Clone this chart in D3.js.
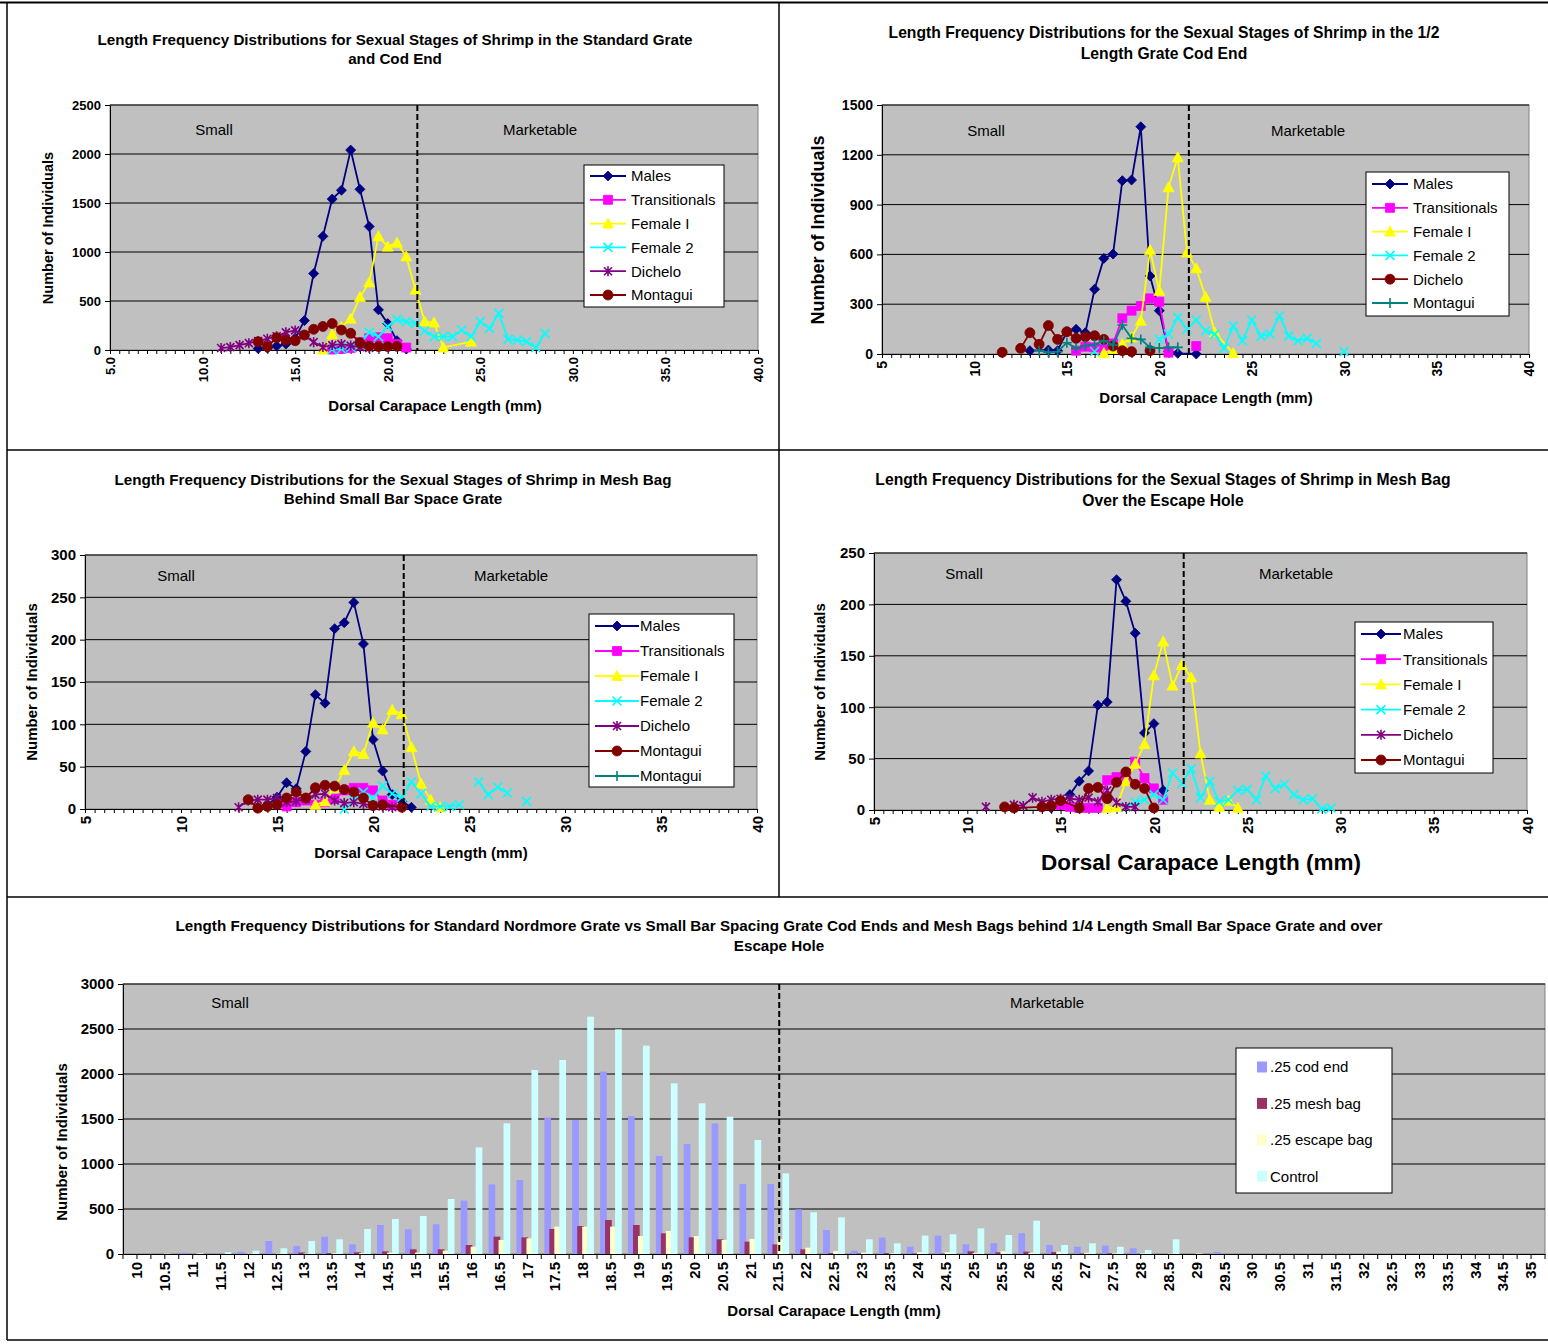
<!DOCTYPE html>
<html>
<head>
<meta charset="utf-8">
<script src="https://cdn.jsdelivr.net/npm/d3@7"></script>
<style>
  body { margin: 0; background: #fff; }
  svg { display: block; }
  text { font-family: Arial, "Liberation Sans", sans-serif; fill: #000; }
</style>
</head>
<body>
<svg id="chart" width="1548" height="1344"></svg>
<script>
// ---------- Length frequency data: [carapace length (mm), number of individuals] ----------
// Standard grate cod end
const stdMales = [[13,15],[13.5,20],[14,40],[14.5,60],[15,120],[15.5,300],[16,780],[16.5,1160],[17,1540],[17.5,1630],[18,2040],[18.5,1640],[19,1260],[19.5,410],[20,270],[20.5,95],[21,10]];
const stdTransitionals = [[17,5],[17.5,10],[18,20],[18.5,80],[19,120],[19.5,130],[20,120],[20.5,60],[21,25]];
const stdFemaleI = [[16.5,5],[17,160],[17.5,235],[18,320],[18.5,540],[19,690],[19.5,1160],[20,1055],[20.5,1095],[21,955],[21.5,615],[22,290],[22.5,280],[23,25],[24.5,85]];
const stdFemaleII = [[17,5],[17.5,10],[18,30],[18.5,60],[19,180],[19.5,136],[20,238],[20.5,313],[21,289],[21.5,272],[22,194],[22.5,136],[23,136],[23.5,136],[24,204],[24.5,136],[25,289],[25.5,221],[26,374],[26.5,109],[27,102],[27.5,85],[28,27],[28.5,170]];
const stdDichelo = [[11,20],[11.5,30],[12,50],[12.5,70],[13,90],[13.5,115],[14,140],[14.5,180],[15,200],[15.5,150],[16,80],[16.5,30],[17,50],[17.5,60],[18,45],[18.5,30],[19,20]];
const stdMontagui = [[13,85],[13.5,34],[14,126],[14.5,102],[15,95],[15.5,153],[16,211],[16.5,240],[17,270],[17.5,204],[18,170],[18.5,74],[19,41],[19.5,35],[20,35],[20.5,38]];

// 1/2 length grate cod end
const halfMales = [[13,20],[14,24],[14.5,20],[15,134],[15.5,149],[16,128],[16.5,390],[17,576],[17.5,602],[18,1044],[18.5,1048],[19,1369],[19.5,470],[20,261],[20.5,14],[21,4],[22,0]];
const halfTransitionals = [[15.5,20],[16,44],[16.5,40],[17,30],[17.5,64],[18,215],[18.5,261],[19,289],[19.5,335],[20,315],[20.5,8],[21,null],[22,48]];
const halfFemaleI = [[17,5],[17.5,30],[18,60],[18.5,100],[19,200],[19.5,626],[20,380],[20.5,1004],[21,1185],[21.5,612],[22,516],[22.5,345],[23,130],[24,5]];
const halfFemaleII = [[16.5,15],[17,null],[20,88],[20.5,120],[21,221],[21.5,149],[22,205],[22.5,140],[23,120],[23.5,34],[24,169],[24.5,80],[25,205],[25.5,108],[26,120],[26.5,229],[27,108],[27.5,80],[28,94],[28.5,64],[29,null],[30,14]];
const halfDichelo = [[11.5,10],[12,null],[12.5,34],[13,128],[13.5,58],[14,171],[14.5,88],[15,134],[15.5,94],[16,104],[16.5,110],[17,88],[17.5,48],[18,20],[18.5,14],[19,null],[19.5,20]];
const halfMontagui = [[13.5,20],[14,10],[14.5,14],[15,68],[15.5,34],[16,50],[16.5,57],[17,80],[17.5,54],[18,175],[18.5,94],[19,88],[19.5,40],[20,36],[20.5,40],[21,40]];

// Mesh bag behind small bar space grate
const meshMales = [[14.5,5],[15,14],[15.5,31],[16,24],[16.5,68],[17,135],[17.5,125],[18,213],[18.5,220],[19,244],[19.5,195],[20,82],[20.5,45],[21,17],[21.5,9],[22,2]];
const meshTransitionals = [[15.5,3],[16,8],[16.5,10],[17,5],[17.5,8],[18,12],[18.5,22],[19,25],[19.5,25],[20,22],[20.5,10],[21,5]];
const meshFemaleI = [[17,5],[17.5,9],[18,25],[18.5,46],[19,68],[19.5,65],[20,102],[20.5,94],[21,117],[21.5,112],[22,73],[22.5,30],[23,11],[23.5,2]];
const meshFemaleII = [[18.5,0],[19,10],[19.5,20],[20,13],[20.5,27],[21,18],[21.5,14],[22,32],[22.5,18],[23,3],[23.5,3],[24,3],[24.5,5],[25,null],[25.5,32],[26,17],[26.5,26],[27,19],[27.5,null],[28,9]];
const meshDichelo = [[13,2],[13.5,10],[14,11],[14.5,11],[15,13],[15.5,8],[16,9],[16.5,12],[17,17],[17.5,18],[18,10],[18.5,7],[19,8],[19.5,6],[20,4],[20.5,3],[21,2]];
const meshMontagui = [[13.5,11],[14,1],[14.5,3],[15,5],[15.5,13],[16,20],[16.5,13],[17,25],[17.5,28],[18,27],[18.5,23],[19,20],[19.5,13],[20,4],[20.5,5],[21.5,2]];
const meshMontaguiB = [];

// Mesh bag over the escape hole
const escMales = [[14.5,2],[15,5],[15.5,15],[16,28],[16.5,38],[17,102],[17.5,105],[18,224],[18.5,203],[19,172],[19.5,75],[20,84],[20.5,19]];
const escTransitionals = [[15,5],[15.5,3],[16,2],[16.5,2],[17,2],[17.5,29],[18,32],[18.5,32],[19,47],[19.5,31],[20,21],[20.5,10]];
const escFemaleI = [[17.5,2],[18,3],[18.5,28],[19,45],[19.5,64],[20,131],[20.5,164],[21,121],[21.5,141],[22,129],[22.5,55],[23,10],[23.5,3],[24,9],[24.5,2]];
const escFemaleII = [[18.5,3],[19,8],[19.5,10],[20,15],[20.5,10],[21,36],[21.5,26],[22,40],[22.5,12],[23,28],[23.5,8],[24,10],[24.5,19],[25,20],[25.5,10],[26,33],[26.5,21],[27,25],[27.5,15],[28,10],[28.5,11],[29,1],[29.5,2]];
const escDichelo = [[11,3],[11.5,null],[12.5,5],[13,4],[13.5,12],[14,8],[14.5,10],[15,11],[15.5,11],[16,10],[16.5,12],[17,8],[17.5,19],[18,7],[18.5,3],[19,3]];
const escMontagui = [[12,3],[12.5,2],[14,3],[14.5,4],[15,9],[16,2],[16.5,21],[17,22],[17.5,11],[18,27],[18.5,37],[19,25],[19.5,21],[20,2]];

// Marketable size cut-off (mm)
const cutoffLength = 21.6;
const lengthTicks = [5, 10, 15, 20, 25, 30, 35, 40];

// Combined comparison (bar chart)
const binLabels = ["10","10.5","11","11.5","12","12.5","13","13.5","14","14.5","15","15.5","16","16.5","17","17.5","18","18.5","19","19.5","20","20.5","21","21.5","22","22.5","23","23.5","24","24.5","25","25.5","26","26.5","27","27.5","28","28.5","29","29.5","30","30.5","31","31.5","32","32.5","33","33.5","34","34.5","35"];
const codEnd    = [0,0,15,0,26,144,89,193,107,322,274,330,593,774,822,1515,1489,2026,1533,1089,1222,1452,778,778,496,267,37,182,81,204,107,119,230,100,81,93,63,0,0,22,0,0,0,0,0,0,0,0,0,0,0];
const meshBag   = [0,0,0,0,0,0,17,10,19,30,52,52,100,193,185,278,311,378,322,230,185,163,137,107,52,10,5,10,5,3,30,19,26,22,5,8,0,0,0,0,0,0,0,0,0,0,0,0,0,0,0];
const escapeBag = [0,5,0,0,5,5,5,8,10,15,15,37,81,156,174,304,304,304,200,256,200,156,167,163,70,33,15,8,19,19,12,30,15,26,12,8,8,5,7,0,0,0,0,0,0,0,0,0,0,0,0];
const control   = [0,0,10,19,37,63,144,163,278,389,422,611,1185,1452,2044,2156,2637,2496,2315,1896,1674,1526,1267,896,463,407,163,119,204,219,285,211,370,100,119,81,44,163,0,0,0,0,0,0,0,0,0,0,0,0,0];
const barSeries = [".25 cod end", ".25 mesh bag", ".25 escape bag", "Control"];
const barCutoff = "21.5";

// ---------- drawing ----------
const svg = d3.select("#chart");
const FONT = 'Arial, "Liberation Sans", sans-serif';
const plain = d3.format("d");

const marker = {
  diamond:  { d: "M0,-5L5,0L0,5L-5,0Z", filled: true },
  square:   { d: "M-4.5,-4.5h9v9h-9Z", filled: true },
  triangle: { d: "M0,-5.5L5.5,4.5L-5.5,4.5Z", filled: true },
  circle:   { d: d3.symbol(d3.symbolCircle, Math.PI * 25)(), filled: true },
  cross:    { d: "M-4.5,-4.5L4.5,4.5M-4.5,4.5L4.5,-4.5", filled: false },
  star:     { d: "M-4,-4L4,4M-4,4L4,-4M0,-5V5", filled: false },
  plus:     { d: "M-5,0H5M0,-5V5", filled: false }
};

function drawMarker(g, shape, color, cx, cy) {
  const m = marker[shape];
  g.append("path")
    .attr("d", m.d)
    .attr("transform", `translate(${cx},${cy})`)
    .attr("fill", m.filled ? color : "none")
    .attr("stroke", color)
    .attr("stroke-width", m.filled ? 0.8 : 1.6);
}

function styleAxisText(sel, size) {
  sel.attr("font-family", FONT).attr("font-size", size).attr("font-weight", "bold");
  sel.selectAll("text").attr("fill", "#000");
  sel.selectAll("line").attr("stroke", "#000");
}

function titleLines(lines, cx, y0, step, size) {
  lines.forEach((t, i) => {
    svg.append("text").attr("x", cx).attr("y", y0 + i * step)
      .attr("text-anchor", "middle").attr("font-size", size).attr("font-weight", "bold").text(t);
  });
}

function linePanel(p) {
  const g = svg.append("g");
  const x = d3.scaleLinear().domain([5, 40]).range([p.left, p.right]);
  const y = d3.scaleLinear().domain([0, p.yMax]).range([p.bottom, p.top]);

  titleLines(p.title, p.titleX, p.titleY, p.titleStep, p.titleSize);

  g.append("rect").attr("x", p.left).attr("y", p.top)
    .attr("width", p.right - p.left).attr("height", p.bottom - p.top)
    .attr("fill", "#C0C0C0").attr("stroke", "#808080");

  p.yTicks.forEach(v => {
    if (v === 0) return;
    g.append("line").attr("x1", p.left).attr("x2", p.right)
      .attr("y1", y(v)).attr("y2", y(v)).attr("stroke", "#000").attr("stroke-width", 1);
  });

  // y axis
  const ya = g.append("g").attr("transform", `translate(${p.left},0)`)
    .call(d3.axisLeft(y).tickValues(p.yTicks).tickFormat(plain).tickSize(5).tickSizeOuter(0).tickPadding(4));
  styleAxisText(ya, p.tickSize);
  ya.select(".domain").attr("stroke", "#000");

  // x axis with minor ticks every 0.5 mm
  const minor = d3.range(5, 40.001, 0.5);
  const xa = g.append("g").attr("transform", `translate(0,${p.bottom})`)
    .call(d3.axisBottom(x).tickValues(minor).tickSize(4).tickSizeOuter(0)
      .tickFormat(d => lengthTicks.includes(d) ? d3.format(p.xFormat)(d) : ""));
  styleAxisText(xa, p.tickSize);
  xa.select(".domain").attr("stroke", "#000");
  xa.selectAll("text").attr("transform", "rotate(-90)")
    .attr("x", -7).attr("y", 0).attr("dy", "0.35em").attr("text-anchor", "end");

  // size class labels
  g.append("text").attr("x", p.smallX).attr("y", p.labelY).attr("text-anchor", "middle")
    .attr("font-size", 15).text("Small");
  g.append("text").attr("x", p.marketX).attr("y", p.labelY).attr("text-anchor", "middle")
    .attr("font-size", 15).text("Marketable");

  // series
  p.series.forEach(s => {
    const line = d3.line().defined(d => d[1] != null).x(d => x(d[0])).y(d => y(d[1]));
    g.append("path").datum(s.data).attr("d", line)
      .attr("fill", "none").attr("stroke", s.color).attr("stroke-width", 1.8);
    s.data.filter(d => d[1] != null).forEach(d => drawMarker(g, s.shape, s.color, x(d[0]), y(d[1])));
  });

  // cut-off
  g.append("line").attr("x1", x(cutoffLength)).attr("x2", x(cutoffLength))
    .attr("y1", p.top).attr("y2", p.bottom)
    .attr("stroke", "#000").attr("stroke-width", 2).attr("stroke-dasharray", "6,3");

  // legend
  const L = p.legend;
  g.append("rect").attr("x", L.x).attr("y", L.y).attr("width", L.w).attr("height", L.h)
    .attr("fill", "#fff").attr("stroke", "#000");
  p.series.forEach((s, i) => {
    const ry = L.y + L.first + i * L.step;
    g.append("line").attr("x1", L.x + 6).attr("x2", L.x + 6 + 2 * (L.mark - 6))
      .attr("y1", ry).attr("y2", ry).attr("stroke", s.color).attr("stroke-width", 1.8);
    drawMarker(g, s.shape, s.color, L.x + L.mark, ry);
    g.append("text").attr("x", L.x + L.text).attr("y", ry).attr("dy", "0.36em")
      .attr("font-size", 15).text(s.name);
  });

  // axis titles
  g.append("text").attr("transform", `translate(${p.yTitleX},${p.yTitleY}) rotate(-90)`)
    .attr("text-anchor", "middle").attr("dy", "0.35em")
    .attr("font-size", p.yTitleSize).attr("font-weight", "bold").text("Number of Individuals");
  g.append("text").attr("x", p.xTitleX).attr("y", p.xTitleY)
    .attr("text-anchor", "middle").attr("dy", "0.35em")
    .attr("font-size", p.xTitleSize).attr("font-weight", "bold").text("Dorsal Carapace Length (mm)");
}

const C = {
  males: "#000080", trans: "#FF00FF", fem1: "#FFFF00", fem2: "#00FFFF",
  dich: "#800080", mont: "#800000", teal: "#008080"
};

// Panel: standard grate
linePanel({
  title: ["Length Frequency Distributions for Sexual Stages of Shrimp in the Standard Grate", "and Cod End"],
  titleX: 395, titleY: 45, titleStep: 19, titleSize: 15.2,
  left: 110, right: 758, top: 105, bottom: 350, yMax: 2500,
  yTicks: [0, 500, 1000, 1500, 2000, 2500], tickSize: 13, xFormat: ".1f",
  smallX: 214, marketX: 540, labelY: 135,
  yTitleX: 48, yTitleY: 228, yTitleSize: 14.5,
  xTitleX: 435, xTitleY: 406, xTitleSize: 15,
  legend: { x: 584, y: 165, w: 140, h: 142, first: 11, step: 23.8, mark: 24, text: 47 },
  series: [
    { name: "Males", data: stdMales, color: C.males, shape: "diamond" },
    { name: "Transitionals", data: stdTransitionals, color: C.trans, shape: "square" },
    { name: "Female I", data: stdFemaleI, color: C.fem1, shape: "triangle" },
    { name: "Female 2", data: stdFemaleII, color: C.fem2, shape: "cross" },
    { name: "Dichelo", data: stdDichelo, color: C.dich, shape: "star" },
    { name: "Montagui", data: stdMontagui, color: C.mont, shape: "circle" }
  ]
});

// Panel: 1/2 length grate
linePanel({
  title: ["Length Frequency Distributions for the Sexual Stages of Shrimp in the 1/2", "Length Grate Cod End"],
  titleX: 1164, titleY: 38, titleStep: 21, titleSize: 15.7,
  left: 882, right: 1529, top: 105, bottom: 354, yMax: 1500,
  yTicks: [0, 300, 600, 900, 1200, 1500], tickSize: 14, xFormat: "d",
  smallX: 986, marketX: 1308, labelY: 136,
  yTitleX: 818, yTitleY: 230, yTitleSize: 18,
  xTitleX: 1206, xTitleY: 398, xTitleSize: 15,
  legend: { x: 1366, y: 172, w: 143, h: 144, first: 12, step: 23.8, mark: 24, text: 47 },
  series: [
    { name: "Males", data: halfMales, color: C.males, shape: "diamond" },
    { name: "Transitionals", data: halfTransitionals, color: C.trans, shape: "square" },
    { name: "Female I", data: halfFemaleI, color: C.fem1, shape: "triangle" },
    { name: "Female 2", data: halfFemaleII, color: C.fem2, shape: "cross" },
    { name: "Dichelo", data: halfDichelo, color: C.mont, shape: "circle" },
    { name: "Montagui", data: halfMontagui, color: C.teal, shape: "plus" }
  ]
});

// Panel: mesh bag behind small bar space grate
linePanel({
  title: ["Length Frequency Distributions for the Sexual Stages of Shrimp in Mesh Bag", "Behind Small Bar Space Grate"],
  titleX: 393, titleY: 485, titleStep: 19, titleSize: 15.2,
  left: 85, right: 757, top: 555, bottom: 809, yMax: 300,
  yTicks: [0, 50, 100, 150, 200, 250, 300], tickSize: 15, xFormat: "d",
  smallX: 176, marketX: 511, labelY: 581,
  yTitleX: 32, yTitleY: 682, yTitleSize: 15,
  xTitleX: 421, xTitleY: 853, xTitleSize: 15,
  legend: { x: 589, y: 614, w: 145, h: 173, first: 12, step: 25, mark: 28, text: 51 },
  series: [
    { name: "Males", data: meshMales, color: C.males, shape: "diamond" },
    { name: "Transitionals", data: meshTransitionals, color: C.trans, shape: "square" },
    { name: "Female I", data: meshFemaleI, color: C.fem1, shape: "triangle" },
    { name: "Female 2", data: meshFemaleII, color: C.fem2, shape: "cross" },
    { name: "Dichelo", data: meshDichelo, color: C.dich, shape: "star" },
    { name: "Montagui", data: meshMontagui, color: C.mont, shape: "circle" },
    { name: "Montagui", data: meshMontaguiB, color: C.teal, shape: "plus" }
  ]
});

// Panel: mesh bag over the escape hole
linePanel({
  title: ["Length Frequency Distributions for the Sexual Stages of Shrimp in Mesh Bag", "Over the Escape Hole"],
  titleX: 1163, titleY: 485, titleStep: 21, titleSize: 15.7,
  left: 874, right: 1527, top: 553, bottom: 810, yMax: 250,
  yTicks: [0, 50, 100, 150, 200, 250], tickSize: 15, xFormat: "d",
  smallX: 964, marketX: 1296, labelY: 579,
  yTitleX: 820, yTitleY: 682, yTitleSize: 15,
  xTitleX: 1201, xTitleY: 862, xTitleSize: 22.5,
  legend: { x: 1355, y: 622, w: 138, h: 151, first: 12, step: 25.2, mark: 26, text: 48 },
  series: [
    { name: "Males", data: escMales, color: C.males, shape: "diamond" },
    { name: "Transitionals", data: escTransitionals, color: C.trans, shape: "square" },
    { name: "Female I", data: escFemaleI, color: C.fem1, shape: "triangle" },
    { name: "Female 2", data: escFemaleII, color: C.fem2, shape: "cross" },
    { name: "Dichelo", data: escDichelo, color: C.dich, shape: "star" },
    { name: "Montagui", data: escMontagui, color: C.mont, shape: "circle" }
  ]
});

// Panel: combined bar comparison
(function barPanel() {
  const left = 123, right = 1545, top = 984, bottom = 1254;
  const g = svg.append("g");
  const x = d3.scaleBand().domain(binLabels).range([left, right]).padding(0);
  const y = d3.scaleLinear().domain([0, 3000]).range([bottom, top]);
  const yTicks = [0, 500, 1000, 1500, 2000, 2500, 3000];

  titleLines(["Length Frequency Distributions for Standard Nordmore Grate vs Small Bar Spacing Grate Cod Ends and Mesh Bags behind 1/4 Length Small Bar Space Grate and over", "Escape Hole"], 779, 931, 20, 15.2);

  g.append("rect").attr("x", left).attr("y", top).attr("width", right - left).attr("height", bottom - top)
    .attr("fill", "#C0C0C0").attr("stroke", "#808080");
  yTicks.forEach(v => {
    if (v === 0) return;
    g.append("line").attr("x1", left).attr("x2", right).attr("y1", y(v)).attr("y2", y(v))
      .attr("stroke", "#000");
  });

  g.append("text").attr("x", 230).attr("y", 1008).attr("text-anchor", "middle").attr("font-size", 15).text("Small");
  g.append("text").attr("x", 1047).attr("y", 1008).attr("text-anchor", "middle").attr("font-size", 15).text("Marketable");

  const colors = ["#9999FF", "#993366", "#FFFFCC", "#CCFFFF"];
  const values = [codEnd, meshBag, escapeBag, control];
  const barW = 6.7, step = 5;
  const off = (x.bandwidth() - (3 * step + barW)) / 2;
  values.forEach((vals, si) => {
    g.selectAll(null).data(binLabels.map((c, i) => [c, vals[i]]).filter(d => d[1] > 0))
      .join("rect")
      .attr("x", d => x(d[0]) + off + si * step)
      .attr("width", barW)
      .attr("y", d => y(d[1]))
      .attr("height", d => bottom - y(d[1]))
      .attr("fill", colors[si]);
  });

  // cut-off
  const cx = x(barCutoff) + x.bandwidth() / 2 + 1;
  g.append("line").attr("x1", cx).attr("x2", cx).attr("y1", top).attr("y2", bottom)
    .attr("stroke", "#000").attr("stroke-width", 2).attr("stroke-dasharray", "6,3");

  // y axis
  const ya = g.append("g").attr("transform", `translate(${left},0)`)
    .call(d3.axisLeft(y).tickValues(yTicks).tickFormat(plain).tickSize(5).tickSizeOuter(0).tickPadding(4));
  styleAxisText(ya, 15);
  ya.select(".domain").attr("stroke", "#000");

  // x axis: labels at category centres, ticks every half category
  const xa = g.append("g").attr("transform", `translate(0,${bottom})`)
    .call(d3.axisBottom(x).tickSize(0).tickSizeOuter(0));
  styleAxisText(xa, 15);
  xa.select(".domain").attr("stroke", "#000");
  xa.selectAll("text").attr("transform", "rotate(-90)")
    .attr("x", -8).attr("y", 0).attr("dy", "0.35em").attr("text-anchor", "end");
  const half = x.bandwidth() / 2;
  d3.range(0, binLabels.length * 2 + 1).forEach(k => {
    const tx = left + k * half;
    g.append("line").attr("x1", tx).attr("x2", tx).attr("y1", bottom).attr("y2", bottom + 5).attr("stroke", "#000");
  });

  // legend
  const lx = 1236, ly = 1048;
  g.append("rect").attr("x", lx).attr("y", ly).attr("width", 156).attr("height", 145)
    .attr("fill", "#fff").attr("stroke", "#000");
  barSeries.forEach((name, i) => {
    const ry = ly + 19 + i * 36.4;
    g.append("rect").attr("x", lx + 21).attr("y", ry - 5.5).attr("width", 10).attr("height", 11).attr("fill", colors[i]);
    g.append("text").attr("x", lx + 34).attr("y", ry).attr("dy", "0.36em").attr("font-size", 15).text(name);
  });

  g.append("text").attr("transform", `translate(62,1142) rotate(-90)`)
    .attr("text-anchor", "middle").attr("dy", "0.35em")
    .attr("font-size", 15).attr("font-weight", "bold").text("Number of Individuals");
  g.append("text").attr("x", 834).attr("y", 1311).attr("text-anchor", "middle").attr("dy", "0.35em")
    .attr("font-size", 15).attr("font-weight", "bold").text("Dorsal Carapace Length (mm)");
})();

// ---------- frame rules between panels ----------
const frame = [
  [0, 2.5, 1548, 2.5, 2],
  [7, 2, 7, 1340, 1.5],
  [779, 2, 779, 897, 1.5],
  [7, 450, 1548, 450, 1.5],
  [7, 897, 1548, 897, 1.5],
  [7, 1340, 1548, 1340, 1.5]
];
frame.forEach(([x1, y1, x2, y2, w]) => {
  svg.append("line").attr("x1", x1).attr("y1", y1).attr("x2", x2).attr("y2", y2)
    .attr("stroke", "#000").attr("stroke-width", w);
});
</script>
</body>
</html>
